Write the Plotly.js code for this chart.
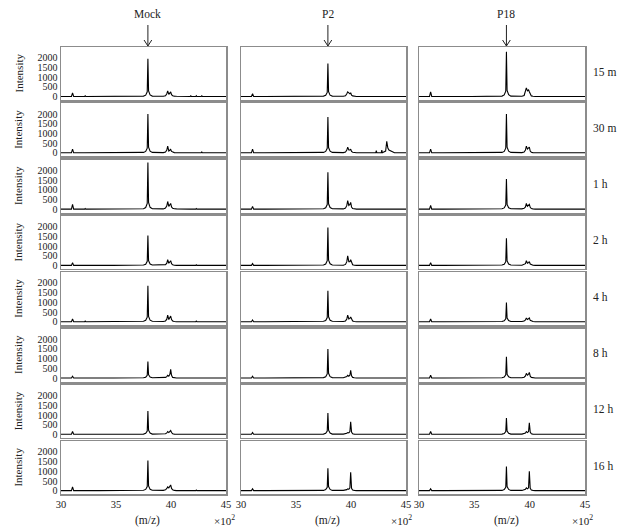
<!DOCTYPE html>
<html><head><meta charset="utf-8">
<script src="https://cdn.plot.ly/plotly-3.0.1.min.js"></script>
<style>body{margin:0;background:#fff}#chart{width:640px;height:530px}</style>
</head><body><div id="chart"></div>
<script>
// m/z axis (x 10^2)
const mz = [30.0,
  30.95,31.05,31.15,
  32.15,32.2,32.25,
  33.45,33.5,33.55,
  34.65,34.7,34.75,
  37.5,37.7,37.84,37.9,37.96,38.1,38.3,
  39.3,39.5,39.62,39.7,39.8,39.9,39.97,40.05,40.15,40.3,40.5,
  41.75,41.8,41.85,
  42.25,42.3,42.35,
  42.75,42.8,42.85,
  43.15,43.25,43.35,43.45,
  43.95,44.0,44.05,
  45.0];

// Mock
const mock15m = [10, 10,200,10, 10,40,10, 10,40,10, 10,40,10, 30,80,250,1950,300,90,30, 20,50,150,300,120,230,250,100,50,30,20, 10,40,10, 10,50,10, 10,40,10, 10,10,10,10, 10,10,10, 10];
const mock30m = [10, 10,200,10, 10,10,10, 10,40,10, 10,40,10, 30,80,250,2000,300,90,30, 20,50,150,350,100,150,180,80,40,20,10, 10,30,10, 10,40,10, 10,50,10, 10,10,10,10, 10,10,10, 10];
const mock1h  = [10, 10,250,10, 10,40,10, 10,10,10, 10,40,10, 30,90,300,2400,350,100,30, 20,60,180,400,150,250,300,120,50,30,20, 10,30,10, 10,40,10, 10,40,10, 10,10,10,10, 10,30,10, 10];
const mock2h  = [10, 10,150,10, 10,30,10, 10,30,10, 10,30,10, 30,70,220,1550,250,80,30, 20,50,120,300,120,200,250,100,40,20,10, 10,30,10, 10,40,10, 10,30,10, 10,10,10,10, 10,10,10, 10];
const mock4h  = [10, 10,150,10, 10,40,10, 10,30,10, 10,40,10, 30,80,240,1850,280,90,30, 20,50,140,350,120,250,300,120,50,20,10, 10,30,10, 10,40,10, 10,40,10, 10,10,10,10, 10,10,10, 10];
const mock8h  = [10, 10,100,10, 10,30,10, 10,30,10, 10,30,10, 20,50,150,850,180,60,20, 20,40,80,150,100,200,450,150,40,20,10, 10,30,10, 10,30,10, 10,30,10, 10,10,10,10, 10,10,10, 10];
const mock12h = [10, 10,150,10, 10,30,10, 10,30,10, 10,30,10, 20,60,180,1200,220,70,20, 20,40,80,150,100,150,200,100,40,20,10, 10,30,10, 10,30,10, 10,30,10, 10,10,10,10, 10,10,10, 10];
const mock16h = [10, 10,200,10, 10,30,10, 10,10,10, 10,40,10, 30,70,220,1550,250,80,30, 20,50,120,200,150,250,300,120,50,20,10, 10,30,10, 10,40,10, 10,40,10, 10,10,10,10, 10,30,10, 10];

// P2
const p2_15m = [10, 10,150,10, 10,10,10, 10,30,10, 10,30,10, 30,70,220,1700,260,80,30, 20,50,150,250,200,150,200,80,40,20,10, 10,30,10, 10,30,10, 10,30,10, 10,10,10,10, 10,30,10, 10];
const p2_30m = [10, 10,200,10, 10,10,10, 10,30,10, 10,30,10, 30,80,240,1850,280,90,30, 20,50,150,300,150,150,200,80,40,20,10, 10,30,10, 10,120,10, 10,150,10, 100,600,250,150, 10,30,10, 10];
const p2_1h  = [10, 10,150,10, 10,10,10, 10,30,10, 10,30,10, 30,80,240,1900,280,90,30, 20,60,200,450,200,250,350,120,40,20,10, 10,30,10, 10,30,10, 10,30,10, 10,10,10,10, 10,10,10, 10];
const p2_2h  = [10, 10,100,10, 10,10,10, 10,30,10, 10,30,10, 30,80,250,1950,280,90,30, 20,60,200,500,200,200,300,120,40,20,10, 10,30,10, 10,30,10, 10,30,10, 10,10,10,10, 10,10,10, 10];
const p2_4h  = [10, 10,100,10, 10,10,10, 10,30,10, 10,30,10, 30,70,220,1600,260,80,30, 20,50,150,350,150,180,250,100,40,20,10, 10,30,10, 10,30,10, 10,30,10, 10,10,10,10, 10,10,10, 10];
const p2_8h  = [10, 10,100,10, 10,10,10, 10,30,10, 10,30,10, 30,70,220,1500,250,80,30, 20,40,80,150,100,150,400,120,40,20,10, 10,30,10, 10,30,10, 10,30,10, 10,10,10,10, 10,10,10, 10];
const p2_12h = [10, 10,100,10, 10,10,10, 10,30,10, 10,30,10, 20,60,180,1100,220,70,20, 20,40,60,100,80,150,650,120,40,20,10, 10,30,10, 10,30,10, 10,30,10, 10,10,10,10, 10,10,10, 10];
const p2_16h = [10, 10,100,10, 10,10,10, 10,30,10, 10,30,10, 20,60,180,1150,220,70,20, 20,40,60,100,80,150,950,130,40,20,10, 10,30,10, 10,30,10, 10,30,10, 10,10,10,10, 10,10,10, 10];

// P18
const p18_15m = [10, 10,250,10, 10,30,10, 10,30,10, 10,30,10, 30,90,280,2300,320,100,30, 20,60,300,450,300,350,250,100,40,20,10, 10,30,10, 10,30,10, 10,30,10, 10,10,10,10, 10,30,10, 10];
const p18_30m = [10, 10,200,10, 10,10,10, 10,10,10, 10,30,10, 30,80,250,2000,300,90,30, 20,50,150,350,200,250,300,100,40,20,10, 10,30,10, 10,30,10, 10,30,10, 10,10,10,10, 10,30,10, 10];
const p18_1h  = [10, 10,200,10, 10,10,10, 10,30,10, 10,30,10, 30,70,220,1550,250,80,30, 20,50,120,300,150,200,250,100,40,20,10, 10,30,10, 10,30,10, 10,30,10, 10,10,10,10, 10,10,10, 10];
const p18_2h  = [10, 10,150,10, 10,10,10, 10,30,10, 10,30,10, 30,70,200,1400,240,80,30, 20,50,100,250,120,150,200,80,40,20,10, 10,30,10, 10,30,10, 10,30,10, 10,10,10,10, 10,10,10, 10];
const p18_4h  = [10, 10,150,10, 10,10,10, 10,30,10, 10,30,10, 20,60,160,1000,200,70,20, 20,40,100,200,120,150,200,80,40,20,10, 10,30,10, 10,30,10, 10,30,10, 10,10,10,10, 10,10,10, 10];
const p18_8h  = [10, 10,150,10, 10,10,10, 10,30,10, 10,30,10, 20,60,170,1100,200,70,20, 20,50,120,250,150,200,300,100,40,20,10, 10,30,10, 10,30,10, 10,30,10, 10,10,10,10, 10,10,10, 10];
const p18_12h = [10, 10,150,10, 10,10,10, 10,30,10, 10,30,10, 20,50,150,850,180,60,20, 20,40,80,150,100,150,600,120,40,20,10, 10,30,10, 10,30,10, 10,30,10, 10,10,10,10, 10,10,10, 10];
const p18_16h = [10, 10,100,10, 10,10,10, 10,30,10, 10,30,10, 20,60,180,1250,220,70,20, 20,40,80,150,100,150,1000,130,40,20,10, 10,30,10, 10,30,10, 10,30,10, 10,10,10,10, 10,10,10, 10];

const columns = ['Mock', 'P2', 'P18'];
const rowLabels = ['15 m', '30 m', '1 h', '2 h', '4 h', '8 h', '12 h', '16 h'];
const xTicks = [30, 35, 40, 45];
const yTicks = [0, 500, 1000, 1500, 2000];
const markerMz = 37.9;
const spectra = [
  [mock15m, p2_15m, p18_15m],
  [mock30m, p2_30m, p18_30m],
  [mock1h,  p2_1h,  p18_1h],
  [mock2h,  p2_2h,  p18_2h],
  [mock4h,  p2_4h,  p18_4h],
  [mock8h,  p2_8h,  p18_8h],
  [mock12h, p2_12h, p18_12h],
  [mock16h, p2_16h, p18_16h]
];

const W = 640, H = 530;
const colPx = [[61, 226], [241, 406], [419, 585]];
const rowTop0 = 47, rowStep = 56.3, rowH = 53;
const font = 'Liberation Serif, Times New Roman, serif';

const data = [];
const layout = {
  width: W, height: H,
  margin: {l: 0, r: 0, t: 0, b: 0},
  paper_bgcolor: '#fff', plot_bgcolor: '#fff',
  showlegend: false,
  font: {family: font, size: 10, color: '#222'},
  annotations: [], shapes: []
};

for (let r = 0; r < 8; r++) {
  const top = rowTop0 + rowStep * r, bot = top + rowH;
  for (let c = 0; c < 3; c++) {
    const k = r * 3 + c + 1;
    const sx = k === 1 ? '' : String(k);
    data.push({
      type: 'scatter', mode: 'lines', x: mz, y: spectra[r][c],
      xaxis: 'x' + sx, yaxis: 'y' + sx,
      line: {color: '#000', width: 1.1}, hoverinfo: 'skip'
    });
    layout['xaxis' + sx] = {
      domain: [colPx[c][0] / W, colPx[c][1] / W], anchor: 'y' + sx,
      range: [30, 45], showgrid: false, zeroline: false,
      showline: true, mirror: true, linecolor: '#8c8c8c', linewidth: 1.5,
      ticks: '', tickvals: xTicks, showticklabels: r === 7,
      tickfont: {family: font, size: 10.5, color: '#222'}
    };
    layout['yaxis' + sx] = {
      domain: [1 - bot / H, 1 - top / H], anchor: 'x' + sx,
      range: [-170, 2550], showgrid: false, zeroline: false,
      showline: true, mirror: true, linecolor: '#8c8c8c', linewidth: 1.5,
      ticks: '', tickvals: yTicks, showticklabels: c === 0,
      tickfont: {family: font, size: 10, color: '#222'}
    };
  }
  layout.annotations.push({
    xref: 'paper', yref: 'paper', x: 18 / W, y: 1 - (top + rowH / 2) / H,
    text: 'Intensity', textangle: -90, showarrow: false,
    xanchor: 'center', yanchor: 'middle', font: {family: font, size: 11, color: '#222'}
  });
  layout.annotations.push({
    xref: 'paper', yref: 'paper', x: 591 / W, y: 1 - (top + rowH / 2 - 2) / H,
    text: rowLabels[r], showarrow: false,
    xanchor: 'left', yanchor: 'middle', font: {family: font, size: 11.5, color: '#222'}
  });
}

const xPos = [224, 401, 582];
for (let c = 0; c < 3; c++) {
  const xr = 'x' + (c === 0 ? '' : String(c + 1));
  const xb = 'x' + String(22 + c);
  layout.annotations.push({
    xref: xr, yref: 'paper', x: markerMz, y: 1 - 14 / H, text: columns[c],
    showarrow: false, xanchor: 'center', yanchor: 'middle',
    font: {family: font, size: 11.5, color: '#222'}
  });
  layout.annotations.push({
    xref: xb, yref: 'paper', x: markerMz, y: 1 - 520 / H, text: '(m/z)',
    showarrow: false, xanchor: 'center', yanchor: 'middle',
    font: {family: font, size: 11.5, color: '#222'}
  });
  layout.annotations.push({
    xref: 'paper', yref: 'paper', x: xPos[c] / W, y: 1 - 520 / H, text: '×10<sup>2</sup>',
    showarrow: false, xanchor: 'center', yanchor: 'middle',
    font: {family: font, size: 11, color: '#222'}
  });
  const ln = {color: '#222', width: 1};
  layout.shapes.push({type: 'line', xref: xr, yref: 'paper', x0: markerMz, x1: markerMz, y0: 1 - 25 / H, y1: 1 - 46 / H, line: ln});
  layout.shapes.push({type: 'line', xref: xr, yref: 'paper', x0: markerMz - 0.35, x1: markerMz, y0: 1 - 40 / H, y1: 1 - 46 / H, line: ln});
  layout.shapes.push({type: 'line', xref: xr, yref: 'paper', x0: markerMz + 0.35, x1: markerMz, y0: 1 - 40 / H, y1: 1 - 46 / H, line: ln});
}

Plotly.newPlot('chart', data, layout, {staticPlot: true, displayModeBar: false});
</script>
</body></html>
